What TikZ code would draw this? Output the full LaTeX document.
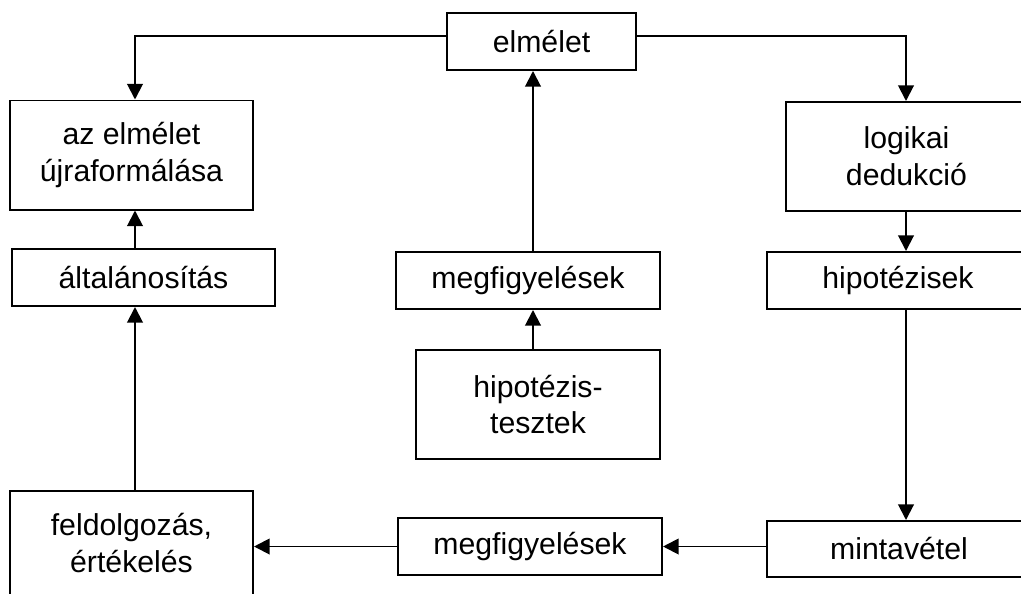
\documentclass[tikz,border=0pt]{standalone}
\usepackage{fontspec}
\setmainfont{Liberation Sans}
\usetikzlibrary{arrows.meta}
\begin{document}
\begin{tikzpicture}[x=0.025cm,y=-0.025cm,
				every node/.style={rectangle,draw,line width=1.4pt,align=center,inner sep=0pt,
					font=\fontsize{21.5}{26.2}\selectfont},
				small/.style={minimum height=1.425cm},
				tall/.style={minimum height=2.725cm},
				arr/.style={line width=1.4pt,-{Triangle[length=0.39cm,width=0.39cm]}}]
\clip (0,0) rectangle (1021,593);
\node[small,minimum width=4.725cm] (theory) at (541.5,41.5) {elmélet};
\node[tall,minimum width=6.075cm] (reform) at (131.5,155) {az elmélet\\újraformálása};
\node[tall,minimum width=6.025cm] (deduct) at (906.5,156.5) {logikai\\dedukció};
\node[small,minimum width=6.575cm] (general) at (143.5,277.5) {általánosítás};
\node[small,minimum width=6.6cm] (obsA) at (528,280.5) {megfigyelések};
\node[small,minimum width=6.55cm] (hyp) at (898,280.5) {hipotézisek};
\node[tall,minimum width=6.1cm] (tests) at (538,404.5) {hipotézis-\\tesztek};
\node[tall,minimum width=6.075cm,minimum height=2.6cm] (process) at (131.5,543) {feldolgozás,\\értékelés};
\node[small,minimum width=6.6cm] (obsB) at (530,546.5) {megfigyelések};
\node[small,minimum width=6.6cm,minimum height=1.4cm] (sampling) at (899,549) {mintavétel};
% columns of the connectors
\coordinate (lcol) at (135,36);
\coordinate (mcol) at (533,0);
\coordinate (rcol) at (906,36);
\draw[arr] (theory.west |- lcol) -| (reform.north -| lcol);
\draw[arr] (theory.east |- rcol) -| (deduct.north -| rcol);
\draw[arr] (deduct.south -| rcol) -- (hyp.north -| rcol);
\draw[arr] (hyp.south -| rcol) -- (sampling.north -| rcol);
\draw[arr] (sampling.west |- obsB) -- (obsB.east);
\draw[arr] (obsB.west) -- (process.east |- obsB);
\draw[arr] (process.north -| lcol) -- (general.south -| lcol);
\draw[arr] (general.north -| lcol) -- (reform.south -| lcol);
\draw[arr] (tests.north -| mcol) -- (obsA.south -| mcol);
\draw[arr] (obsA.north -| mcol) -- (theory.south -| mcol);
\end{tikzpicture}
\end{document}
